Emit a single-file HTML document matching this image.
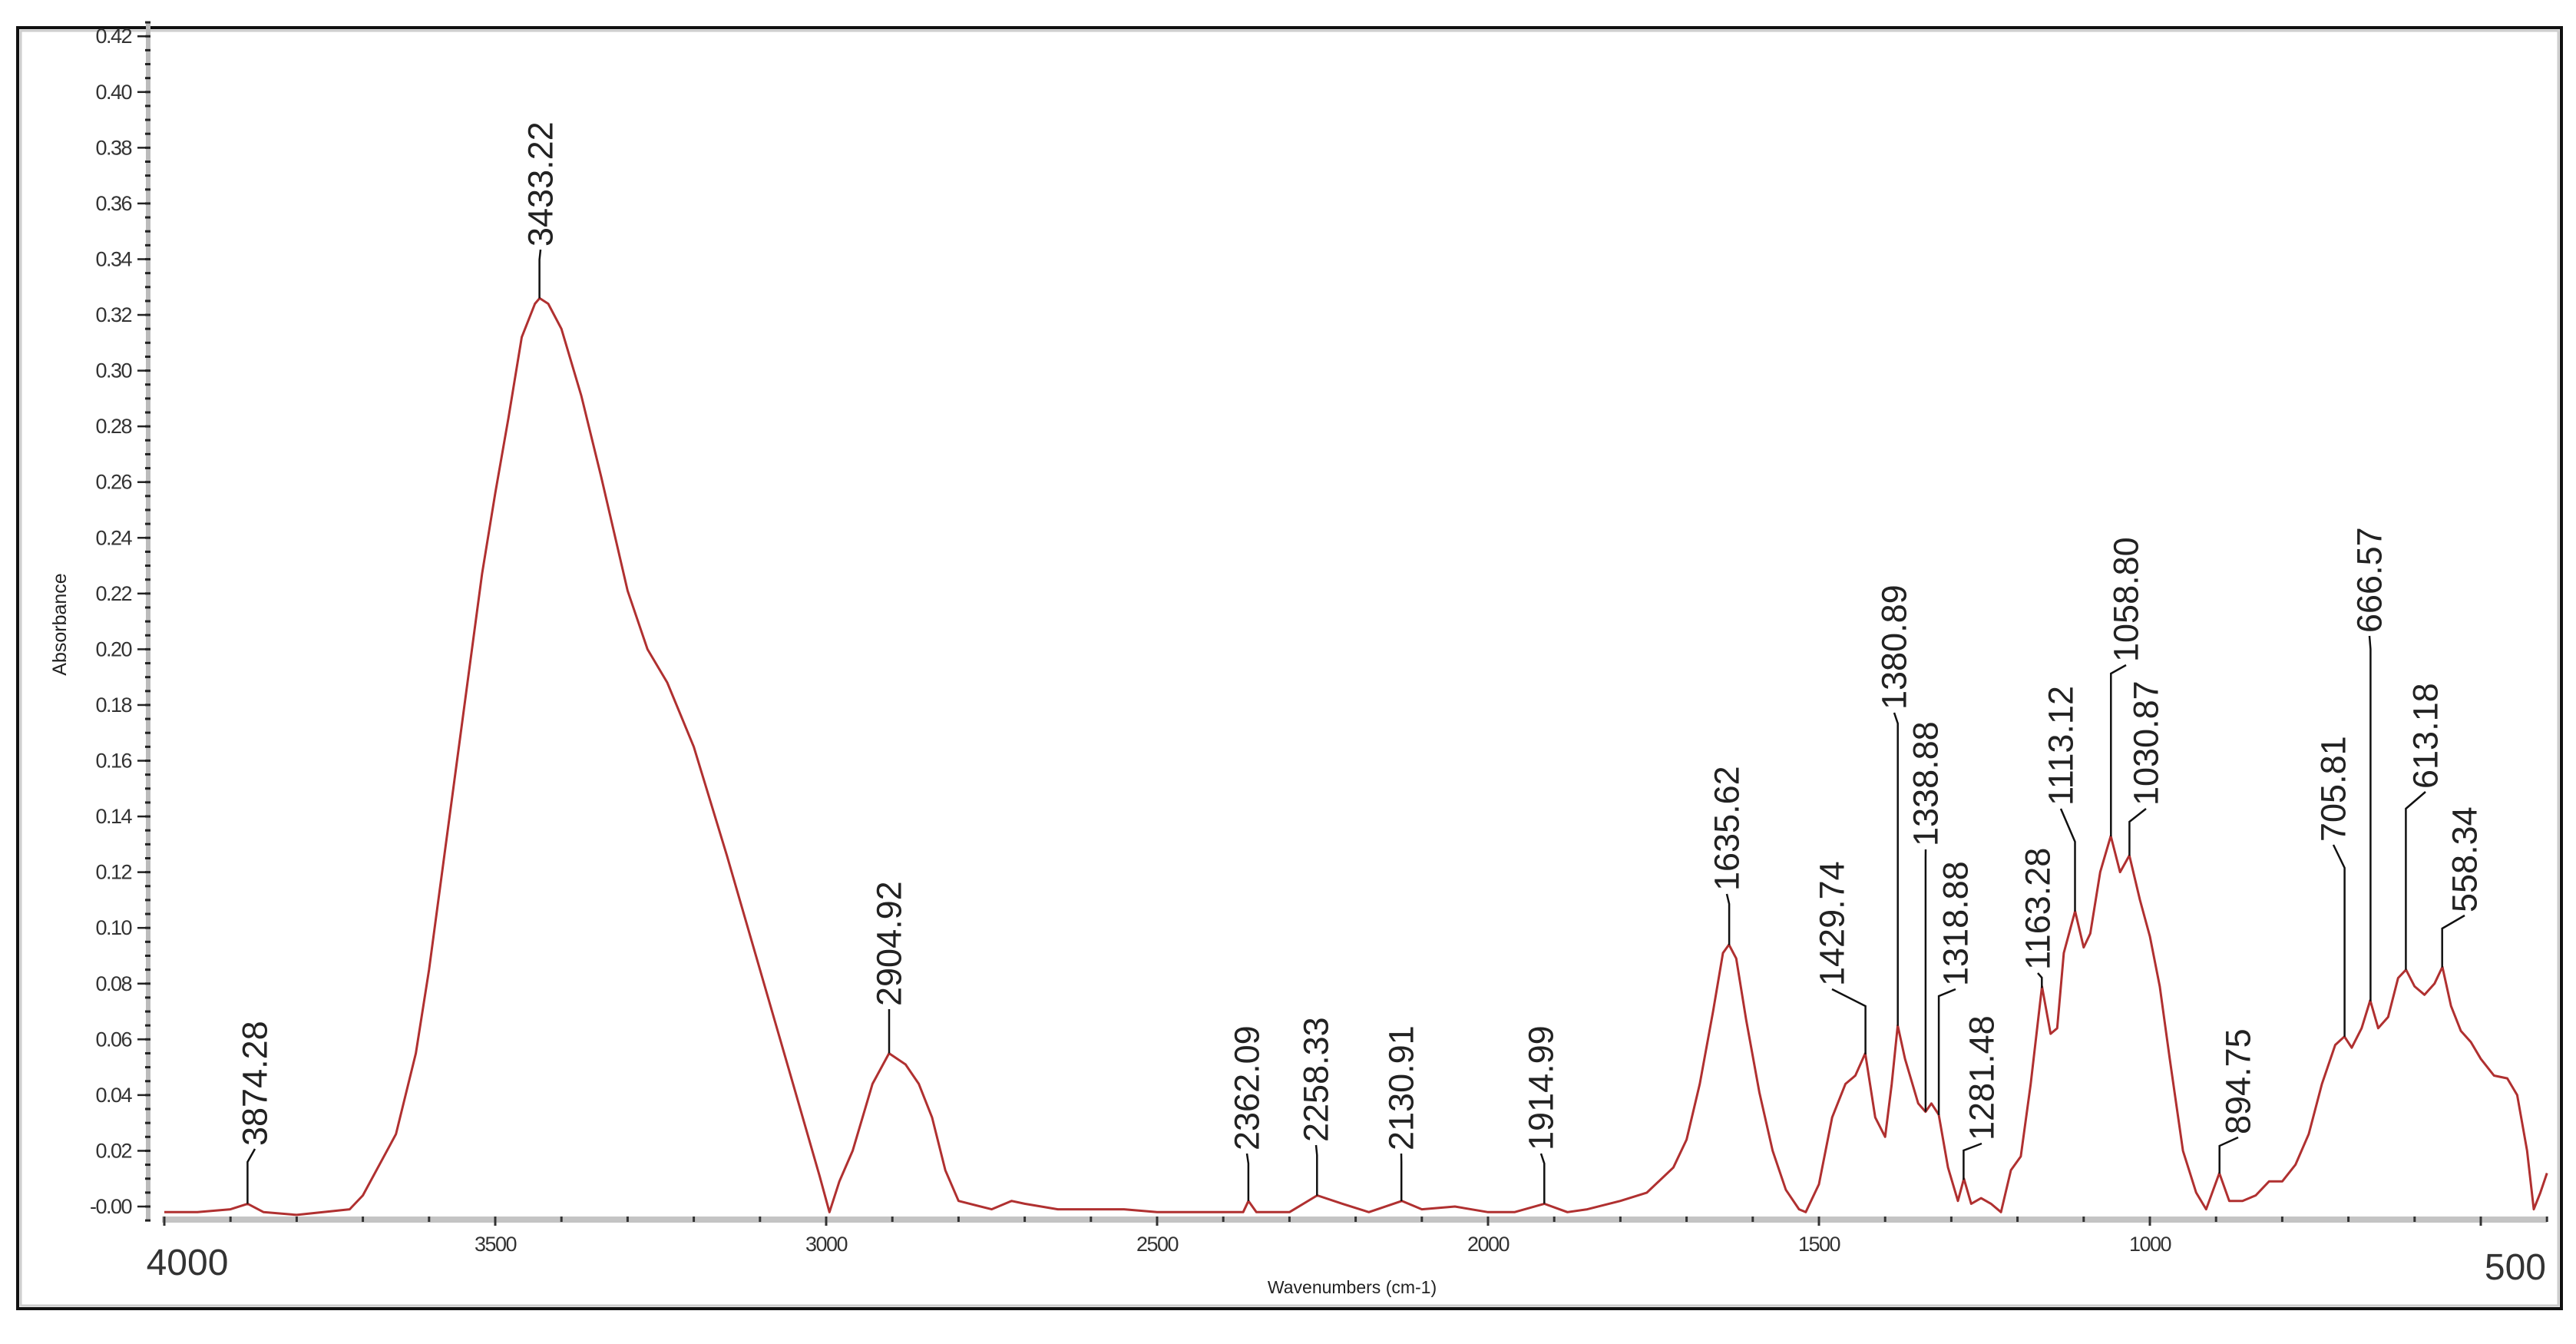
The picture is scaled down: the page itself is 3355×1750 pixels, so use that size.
<!DOCTYPE html>
<html><head><meta charset="utf-8"><style>
html,body{margin:0;padding:0;background:#fff;}
svg{display:block;font-family:"Liberation Sans",sans-serif;}
</style></head><body>
<svg id="chart" width="3355" height="1750" viewBox="0 0 3355 1750" xmlns="http://www.w3.org/2000/svg">
<rect x="0" y="0" width="3355" height="1750" fill="#fff"/>
<rect x="23" y="36" width="3313" height="1668" fill="#fff" stroke="#111" stroke-width="4"/>
<rect x="27" y="40" width="3305" height="1660" fill="none" stroke="#ccc" stroke-width="3"/>
<g id="axes"></g>
<g id="series"></g>
<g id="peaks"></g>
<text x="1761" y="1684" font-size="23" text-anchor="middle" fill="#222">Wavenumbers (cm-1)</text>
<text transform="rotate(-90,78,813)" x="78" y="813" font-size="25" text-anchor="middle" dominant-baseline="central" fill="#222">Absorbance</text>
</svg>
<script>
// ---- data ----
const wavenumbers = [4000,3950,3900,3874,3850,3800,3760,3720,3700,3650,3620,3600,3560,3520,3500,3480,3460,3440,3433,3420,3400,3370,3340,3300,3270,3240,3200,3150,3100,3050,3010,2995,2980,2960,2930,2905,2880,2860,2840,2820,2800,2750,2720,2700,2650,2600,2550,2500,2450,2400,2370,2362,2350,2300,2258,2220,2180,2130,2100,2050,2000,1960,1915,1880,1850,1800,1760,1720,1700,1680,1660,1645,1636,1625,1610,1590,1570,1550,1530,1520,1500,1480,1460,1445,1430,1415,1400,1390,1381,1370,1350,1339,1330,1319,1305,1290,1281,1270,1255,1240,1225,1210,1195,1180,1163,1150,1140,1130,1113,1100,1090,1075,1059,1045,1031,1015,1000,985,970,950,930,915,895,880,860,840,820,800,780,760,740,720,706,695,680,667,655,640,625,613,600,585,570,558,545,530,515,500,480,460,445,430,420,410,400];
const absorbance = [-0.002,-0.002,-0.001,0.001,-0.002,-0.003,-0.002,-0.001,0.004,0.026,0.055,0.085,0.156,0.227,0.256,0.283,0.312,0.324,0.326,0.324,0.315,0.291,0.262,0.221,0.200,0.188,0.165,0.126,0.085,0.044,0.011,-0.002,0.009,0.020,0.044,0.055,0.051,0.044,0.032,0.013,0.002,-0.001,0.002,0.001,-0.001,-0.001,-0.001,-0.002,-0.002,-0.002,-0.002,0.002,-0.002,-0.002,0.004,0.001,-0.002,0.002,-0.001,0.000,-0.002,-0.002,0.001,-0.002,-0.001,0.002,0.005,0.014,0.024,0.044,0.070,0.091,0.094,0.089,0.067,0.041,0.020,0.006,-0.001,-0.002,0.008,0.032,0.044,0.047,0.055,0.032,0.025,0.044,0.065,0.053,0.037,0.034,0.037,0.033,0.014,0.002,0.010,0.001,0.003,0.001,-0.002,0.013,0.018,0.044,0.079,0.062,0.064,0.091,0.106,0.093,0.098,0.120,0.133,0.120,0.126,0.110,0.097,0.079,0.053,0.020,0.005,-0.001,0.012,0.002,0.002,0.004,0.009,0.009,0.015,0.026,0.044,0.058,0.061,0.057,0.064,0.074,0.064,0.068,0.082,0.085,0.079,0.076,0.080,0.086,0.072,0.063,0.059,0.053,0.047,0.046,0.040,0.020,-0.001,0.005,0.012];
const peakLabels = ["3874.28","3433.22","2904.92","2362.09","2258.33","2130.91","1914.99","1635.62","1429.74","1380.89","1338.88","1318.88","1281.48","1163.28","1113.12","1058.80","1030.87","894.75","705.81","666.57","613.18","558.34"];
const peakWn = [3874.28,3433.22,2904.92,2362.09,2258.33,2130.91,1914.99,1635.62,1429.74,1380.89,1338.88,1318.88,1281.48,1163.28,1113.12,1058.80,1030.87,894.75,705.81,666.57,613.18,558.34];
const yTickValues = [0.42,0.40,0.38,0.36,0.34,0.32,0.30,0.28,0.26,0.24,0.22,0.20,0.18,0.16,0.14,0.12,0.10,0.08,0.06,0.04,0.02,0.00];
const yTickLabels = ["0.42","0.40","0.38","0.36","0.34","0.32","0.30","0.28","0.26","0.24","0.22","0.20","0.18","0.16","0.14","0.12","0.10","0.08","0.06","0.04","0.02","-0.00"];
const xTickValues = [3500,3000,2500,2000,1500,1000];
const xTickLabels = ["3500","3000","2500","2000","1500","1000"];

// ---- layout (label placement, screen px) ----
const labelLineTop = [1513,338,1327,1515,1504,1513,1515,1177,1310,942,1117,1297,1498,1273,1096,877,1070,1492,1130,845,1053,1209];
const labelBottom = [1492,321,1310,1498,1487,1498,1498,1160,1284,924,1102,1284,1485,1263,1049,862,1049,1477,1096,824,1027,1188];
const labelX = [332,704,1158,1624,1714,1825,2007,2249,2386,2467,2508,2547,2581,2654,2684,2769,2795,2915,3039,3086,3159,3210];

// ---- axis functions ----
const X0 = 214, XK = 0.862;
function xs(w){ return X0 + (4000 - w) * XK; }
const Y0 = 1571, YK = 3628;
function ys(a){ return Y0 - a * YK; }

const NS = "http://www.w3.org/2000/svg";
function mk(tag, attrs, parent){
  const el = document.createElementNS(NS, tag);
  for (const k in attrs) el.setAttribute(k, attrs[k]);
  parent.appendChild(el);
  return el;
}
const axes = document.getElementById('axes');
const series = document.getElementById('series');
const peaks = document.getElementById('peaks');

// y axis
const yAxisX = 193;
let el = mk('line', {x1:yAxisX, y1:ys(0.425), x2:yAxisX, y2:1588, stroke:'#bbb', 'stroke-width':6}, axes);


for (let v = -0.005; v <= 0.4251; v += 0.005) {
  const t = mk('line', {x1:yAxisX-4, y1:ys(v), x2:yAxisX+3, y2:ys(v), stroke:'#222', 'stroke-width':3}, axes);
  
  
}
yTickValues.forEach((v, i) => {
  const t = mk('line', {x1:yAxisX-14, y1:ys(v), x2:yAxisX, y2:ys(v), stroke:'#222', 'stroke-width':2.5}, axes);
  
  
  const tx = mk('text', {x:yAxisX-22, y:ys(v), 'font-size':27, 'text-anchor':'end', 'dominant-baseline':'central', fill:'#333', 'letter-spacing':'-1.5'}, axes);
  tx.textContent = yTickLabels[i];
  
  
});

// x axis
const xAxisY = 1588;
el = mk('line', {x1:xs(4000)-3, y1:xAxisY, x2:xs(400), y2:xAxisY, stroke:'#c4c4c4', 'stroke-width':8}, axes);


for (let w = 4000; w >= 400; w -= 100) {
  const major = (w % 500 === 0);
  const t = mk('line', {x1:xs(w), y1:xAxisY-4, x2:xs(w), y2:xAxisY+(major?8:3), stroke:'#333', 'stroke-width':3}, axes);
  
  
}
xTickValues.forEach((v, i) => {
  const tx = mk('text', {x:xs(v), y:1629, 'font-size':27, 'text-anchor':'middle', fill:'#333', 'letter-spacing':'-1.5'}, axes);
  tx.textContent = xTickLabels[i];
  
  
});
el = mk('text', {x:xs(4000)+30, y:1660, 'font-size':48, 'text-anchor':'middle', fill:'#333'}, axes);
el.textContent = '4000';


el = mk('text', {x:3316, y:1666, 'font-size':48, 'text-anchor':'end', fill:'#333'}, axes);
el.textContent = '500';



// spectrum line
let d = '';
wavenumbers.forEach((w, i) => { d += (i ? 'L' : 'M') + xs(w).toFixed(1) + ',' + ys(absorbance[i]).toFixed(1); });
el = mk('path', {d:d, fill:'none', stroke:'#b03030', 'stroke-width':3, 'stroke-linejoin':'round'}, series);



function interpA(w){
  for (let i = 0; i < wavenumbers.length - 1; i++) {
    const a = wavenumbers[i], b = wavenumbers[i+1];
    if (w <= a && w >= b) { const t = (a - w) / (a - b); return absorbance[i] + t * (absorbance[i+1] - absorbance[i]); }
  }
  return 0;
}

// peak annotations
peakWn.forEach((w, i) => {
  const px = xs(w), py = ys(interpA(w));
  const g = mk('g', {}, peaks);
  
  
  const top = Math.min(labelLineTop[i], py);
  const pts = px.toFixed(1) + ',' + py.toFixed(1) + ' ' + px.toFixed(1) + ',' + top + ' ' + labelX[i] + ',' + (labelBottom[i] + 4);
  const ln = mk('polyline', {points:pts, fill:'none', stroke:'#111', 'stroke-width':2.5}, g);
  
  
  const tx = mk('text', {x:labelX[i], y:labelBottom[i], 'font-size':45, 'text-anchor':'start', 'dominant-baseline':'central', fill:'#222', transform:'rotate(-90,' + labelX[i] + ',' + labelBottom[i] + ')'}, g);
  tx.textContent = peakLabels[i];
  
  
});
</script>
</body></html>
